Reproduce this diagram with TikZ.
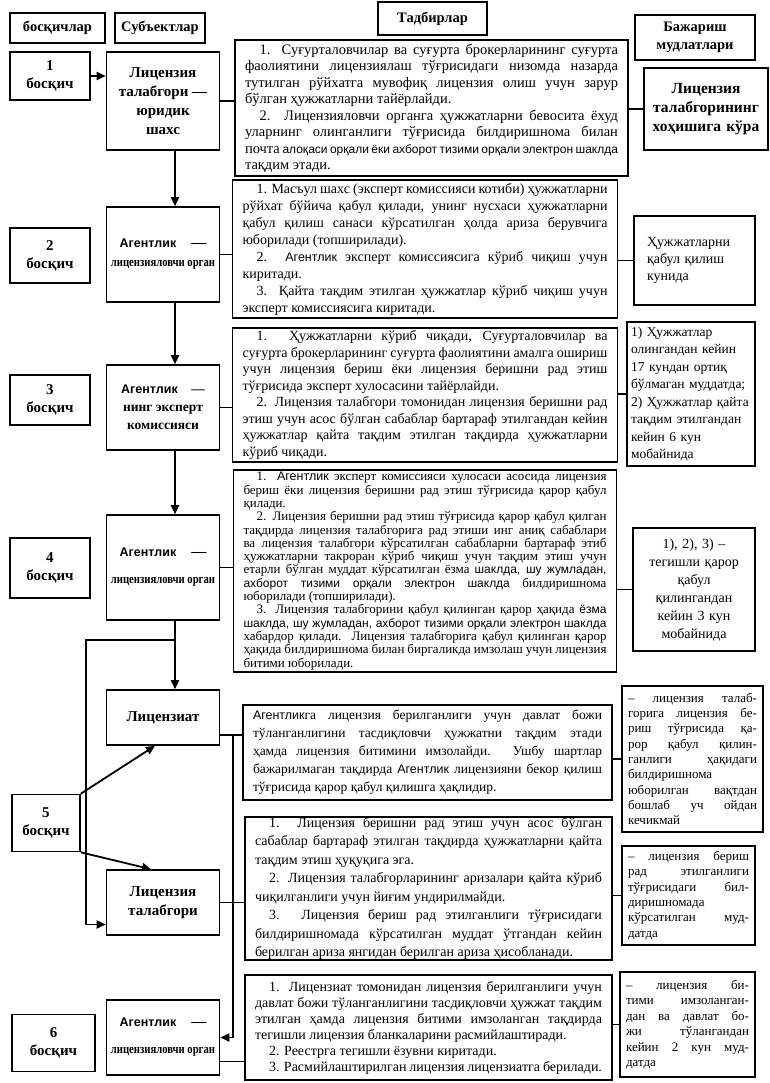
\documentclass[tikz,border=0pt]{standalone}
\usepackage{fontspec}
\setmainfont{Liberation Serif}
\setsansfont{Liberation Sans}
\newfontfamily\narrowfont[FakeStretch=0.82]{Liberation Serif}
\usetikzlibrary{arrows.meta}

\newcommand{\agn}{{\sffamily\fontsize{12.5}{16}\selectfont Агентлик}}
\newcommand{\sfpart}[1]{{\sffamily\fontsize{12}{16}\selectfont #1}}
\newcommand{\organ}{{\narrowfont\fontsize{13}{15}\selectfont лицензияловчи орган}}

\begin{document}
\begin{tikzpicture}[
    x=1pt, y=-1pt,
    font=\fontsize{14}{16.5}\selectfont,
    execute at begin node={\tolerance=9999\emergencystretch=1em},
    box/.style={draw, line width=1.6pt, rectangle, inner sep=0pt},
    head/.style={box, align=center, font=\fontsize{14.5}{18}\selectfont\bfseries},
    stage/.style={box, align=center, minimum width=80pt,
                  font=\fontsize{15}{18}\selectfont\bfseries},
    subj/.style={box, align=center, minimum width=113pt,
                 font=\fontsize{15}{19}\selectfont\bfseries},
    act/.style={box, align=justify, inner xsep=10pt},
    term/.style={box, inner xsep=6pt},
    link/.style={line width=1.6pt},
    flow/.style={-{Triangle[length=9pt,width=8pt]}, line width=1.8pt},
  ]
  \useasboundingbox (0,0) rectangle (770,1083);

  % Ustun o'qlari (pt)
  \def\xs{50}
  \def\xb{163}
  \def\xa{425}
  \def\xt{693}

  % ========================= SARLAVHA ========================
  \node[head, minimum width=95pt, minimum height=30pt] (h1) at (57.5, 28) {босқичлар};
  \node[head, minimum width=90pt, minimum height=30pt] (h2) at (160, 28) {Субъектлар};
  \node[head, minimum width=109pt, minimum height=33pt] (h3) at (432.5, 18.5) {Тадбирлар};
  \node[head, minimum width=120pt, minimum height=45pt] (h4) at (695, 37.5) {Бажариш\\мудлатлари};

  % ========================= 1 БОСҚИЧ ========================
  \node[stage, minimum height=48pt] (s1) at (\xs, 76) {1\\босқич};
  \node[subj, minimum height=98pt] (b1) at (\xb, 101) {Лицензия\\талабгори —\\юридик\\шахс};
  \node[act, text width=373pt, minimum height=136pt,
        font=\fontsize{14.5}{16.5}\selectfont] (a1) at (431.5, 108) {%
    \hspace*{1em}1. Суғурталовчилар ва суғурта брокерларининг суғурта
    фаолиятини лицензиялаш тўғрисидаги низомда назарда тутилган рўйхатга
    мувофиқ лицензия олиш учун зарур бўлган ҳужжатларни тайёрлайди.\\
    \hspace*{1em}2. Лицензияловчи органга ҳужжатларни бевосита ёхуд
    уларнинг олинганлиги тўғрисида билдиришнома билан почта
    \sfpart{алоқаси орқали ёки ахборот тизими орқали электрон шаклда}
    тақдим этади.};
  \node[term, text width=112pt, minimum height=82pt, align=center,
        font=\fontsize{15.5}{19}\selectfont\bfseries] (t1) at (706, 109) {%
    Лицензия\\талабгорининг\\хоҳишига кўра};

  % ========================= 2 БОСҚИЧ ========================
  \node[stage, minimum height=55pt] (s2) at (\xs, 255.5) {2\\босқич};
  \node[subj, minimum height=95pt] (b2) at (\xb, 254.5) {\agn\quad —\\\organ};
  \node[act, text width=365pt, minimum height=138pt,
        font=\fontsize{14}{17}\selectfont] (a2) at (\xa, 249) {%
    \hspace*{1em}1. Масъул шахс (эксперт комиссияси котиби) ҳужжатларни
    рўйхат бўйича қабул қилади, унинг нусхаси ҳужжатларни қабул қилиш
    санаси кўрсатилган ҳолда ариза берувчига юборилади (топширилади).\\
    \hspace*{1em}2. \agn{} эксперт комиссиясига кўриб чиқиш учун киритади.\\
    \hspace*{1em}3. Қайта тақдим этилган ҳужжатлар кўриб чиқиш учун
    эксперт комиссиясига киритади.};
  \node[term, text width=95pt, minimum height=89pt, align=left, inner xsep=13pt,
        font=\fontsize{14}{17}\selectfont] (t2) at (694.5, 260.5) {%
    Ҳужжатларни\\қабул қилиш\\кунида\\[12pt]};

  % ========================= 3 БОСҚИЧ ========================
  \node[stage, minimum height=50pt] (s3) at (\xs, 400) {3\\босқич};
  \node[subj, minimum height=85pt, font=\fontsize{13.5}{18}\selectfont\bfseries] (b3)
    at (\xb, 407.5) {\agn\quad —\\нинг эксперт\\комиссияси};
  \node[act, text width=365pt, minimum height=134pt] (a3) at (\xa, 395) {%
    \hspace*{1em}1. Ҳужжатларни кўриб чиқади, Суғурталовчилар ва суғурта
    брокерларининг суғурта фаолиятини амалга ошириш учун лицензия бериш
    ёки лицензия беришни рад этиш тўғрисида эксперт хулосасини
    тайёрлайди.\\
    \hspace*{1em}2. Лицензия талабгори томонидан лицензия беришни рад
    этиш учун асос бўлган сабаблар бартараф этилгандан кейин ҳужжатлар
    қайта тақдим этилган тақдирда ҳужжатларни кўриб чиқади.};
  \node[term, text width=120pt, minimum height=144pt, align=left, inner xsep=4pt,
        font=\fontsize{13.5}{17.5}\selectfont] (t3) at (691, 394) {%
    1) Ҳужжатлар\\олингандан кейин\\17 кундан ортиқ\\бўлмаган муддатда;\\
    2) Ҳужжатлар қайта\\тақдим этилгандан\\кейин 6 кун\\мобайнида};

  % ========================= 4 БОСҚИЧ ========================
  \node[stage, minimum height=60pt] (s4) at (\xs, 568) {4\\босқич};
  \node[subj, minimum height=105pt] (b4) at (\xb, 567.5) {\agn\quad —\\[8pt]\organ};
  \node[act, text width=363pt, minimum height=202pt,
        font=\fontsize{13}{13.3}\selectfont] (a4) at (\xa, 571) {%
    \hspace*{1em}1. \agn{} эксперт комиссияси хулосаси асосида лицензия
    бериш ёки лицензия беришни рад этиш тўғрисида қарор қабул қилади.\\
    \hspace*{1em}2. Лицензия беришни рад этиш тўғрисида қарор қабул
    қилган тақдирда лицензия талабгорига рад этиши инг аниқ сабаблари ва
    лицензия талабгори кўрсатилган сабабларни бартараф этиб ҳужжатларни
    такроран кўриб чиқиш учун тақдим этиш учун етарли бўлган муддат
    кўрсатилган ёзма \sfpart{шаклда, шу жумладан, ахборот тизими орқали
    электрон шаклда} билдиришнома юборилади (топширилади).\\
    \hspace*{1em}3. Лицензия талабгорини қабул қилинган қарор ҳақида
    \sfpart{ёзма шаклда, шу жумладан, ахборот тизими орқали электрон
    шаклда} хабардор қилади. Лицензия талабгорига қабул қилинган қарор
    ҳақида билдиришнома билан биргаликда имзолаш учун лицензия битими
    юборилади.};
  \node[term, text width=110pt, minimum height=123pt, align=center,
        font=\fontsize{14}{18}\selectfont] (t4) at (694, 589.5) {%
    1), 2), 3) –\\тегишли қарор\\қабул\\қилингандан\\кейин 3 кун\\мобайнида};

  % ========================= 5 БОСҚИЧ ========================
  \node[stage, minimum width=68pt, minimum height=57pt] (s5) at (46, 823) {5\\босқич};
  \node[subj, minimum height=55pt] (b5a) at (\xb, 717.5) {Лицензиат};
  \node[subj, minimum height=65pt] (b5b) at (\xb, 902.5) {Лицензия\\талабгори};
  \node[act, text width=349pt, minimum height=95pt,
        font=\fontsize{13.5}{18}\selectfont] (a5) at (427.5, 752.5) {%
    \agn га лицензия берилганлиги учун давлат божи тўланганлигини
    тасдиқловчи ҳужжатни тақдим этади ҳамда лицензия битимини имзолайди.
    Ушбу шартлар бажарилмаган тақдирда \agn{} лицензияни бекор қилиш
    тўғрисида қарор қабул қилишга ҳақлидир.};
  \node[act, text width=347pt, minimum height=143pt,
        font=\fontsize{14}{18.5}\selectfont] (a6) at (428.5, 888.5) {%
    \hspace*{1em}1. Лицензия беришни рад этиш учун асос бўлган сабаблар
    бартараф этилган тақдирда ҳужжатларни қайта тақдим этиш ҳуқуқига эга.\\
    \hspace*{1em}2. Лицензия талабгорларининг аризалари қайта кўриб
    чиқилганлиги учун йиғим ундирилмайди.\\
    \hspace*{1em}3. Лицензия бериш рад этилганлиги тўғрисидаги
    билдиришномада кўрсатилган муддат ўтгандан кейин берилган ариза
    янгидан берилган ариза ҳисобланади.};
  \node[term, text width=129pt, minimum height=146pt, align=justify,
        font=\fontsize{13}{15.3}\selectfont] (t5) at (692.5, 759) {%
    – лицензия талаб-\linebreak горига лицензия бе-\linebreak
    риш тўғрисида қа-\linebreak рор қабул қилин-\linebreak
    ганлиги ҳақидаги\linebreak билдиришнома\linebreak
    юборилган вақтдан\linebreak бошлаб уч ойдан\linebreak кечикмай};
  \node[term, text width=121pt, minimum height=99pt, align=justify,
        font=\fontsize{13}{15.3}\selectfont] (t6) at (688.5, 895.5) {%
    – лицензия бериш\linebreak рад этилганлиги\linebreak
    тўғрисидаги бил-\linebreak диришномада\linebreak
    кўрсатилган муд-\linebreak датда};

  % ========================= 6 БОСҚИЧ ========================
  \node[stage, minimum width=83pt, minimum height=57pt] (s6) at (53.5, 1043) {6\\босқич};
  \node[subj, minimum height=75pt] (b6) at (\xb, 1037.5) {\agn\quad —\\[8pt]\organ};
  \node[act, text width=347pt, minimum height=105pt,
        font=\fontsize{14}{16}\selectfont] (a7) at (428.5, 1027.5) {%
    \hspace*{1em}1. Лицензиат томонидан лицензия берилганлиги учун
    давлат божи тўланганлигини тасдиқловчи ҳужжат тақдим этилган ҳамда
    лицензия битими имзоланган тақдирда тегишли лицензия бланкаларини
    расмийлаштиради.\\
    \hspace*{1em}2. Реестрга тегишли ёзувни киритади.\\
    \hspace*{1em}3. Расмийлаштирилган лицензия лицензиатга берилади.};
  \node[term, text width=123pt, minimum height=105pt, align=justify,
        font=\fontsize{13}{15.5}\selectfont] (t7) at (687.5, 1024.5) {%
    – лицензия би-\linebreak тими имзоланган-\linebreak
    дан ва давлат бо-\linebreak жи тўлангандан\linebreak
    кейин 2 кун муд-\linebreak датда};

  % ========================= TUGUNLAR ========================
  \coordinate (k1) at (175, 640);
  \coordinate (k3) at (86, 640);
  \coordinate (k2) at (233, 735);

  % ========================= STRELKALAR ======================
  % Asosiy vertikal oqim
  \draw[flow] (s1.east) -- (b1.west |- s1.east);
  \draw[flow] ([xshift=12pt]b1.south) -- ([xshift=12pt]b2.north);
  \draw[flow] ([xshift=12pt]b2.south) -- ([xshift=12pt]b3.north);
  \draw[flow] ([xshift=12pt]b3.south) -- ([xshift=12pt]b4.north);
  \draw[flow] ([xshift=12pt]b4.south) -- ([xshift=12pt]b5a.north);
  \draw[flow] (k1) -- (k3) |- ([yshift=-22pt]b5b.west);
  \draw[flow] (s5.north east) -- ([xshift=-8pt]b5a.south);
  \draw[flow] (s5.south east) -- ([xshift=-12pt]b5b.north);
  \draw[flow] (k2) |- (b6.east);
  % Subyekt -> tadbir
  \draw[link] (b1.east) -- (a1.west |- b1.east);
  \draw[link] (b2.east) -- (a2.west |- b2.east);
  \draw[link] (b3.east) -- (a3.west |- b3.east);
  \draw[link] (b4.east) -- (a4.west |- b4.east);
  \draw[link] (b5a.east |- k2) -- (a5.west |- k2);
  \draw[link] (b5b.east) -- (a6.west |- b5b.east);
  \draw[link] ([yshift=-24pt]b6.east) -- (a7.west |- 0,1061.5);
  % Tadbir -> muddat
  \draw[link] (a1.east |- t1.west) -- (t1.west);
  \draw[link] (a2.east |- t2.west) -- (t2.west);
  \draw[link] (a3.east |- t3.west) -- (t3.west);
  \draw[link] (a4.east |- t4.west) -- (t4.west);
  \draw[link] (a5.east |- t5.west) -- (t5.west);
  \draw[link] (a6.east |- t6.west) -- (t6.west);
  \draw[link] (a7.east |- t7.west) -- (t7.west);
\end{tikzpicture}
\end{document}
